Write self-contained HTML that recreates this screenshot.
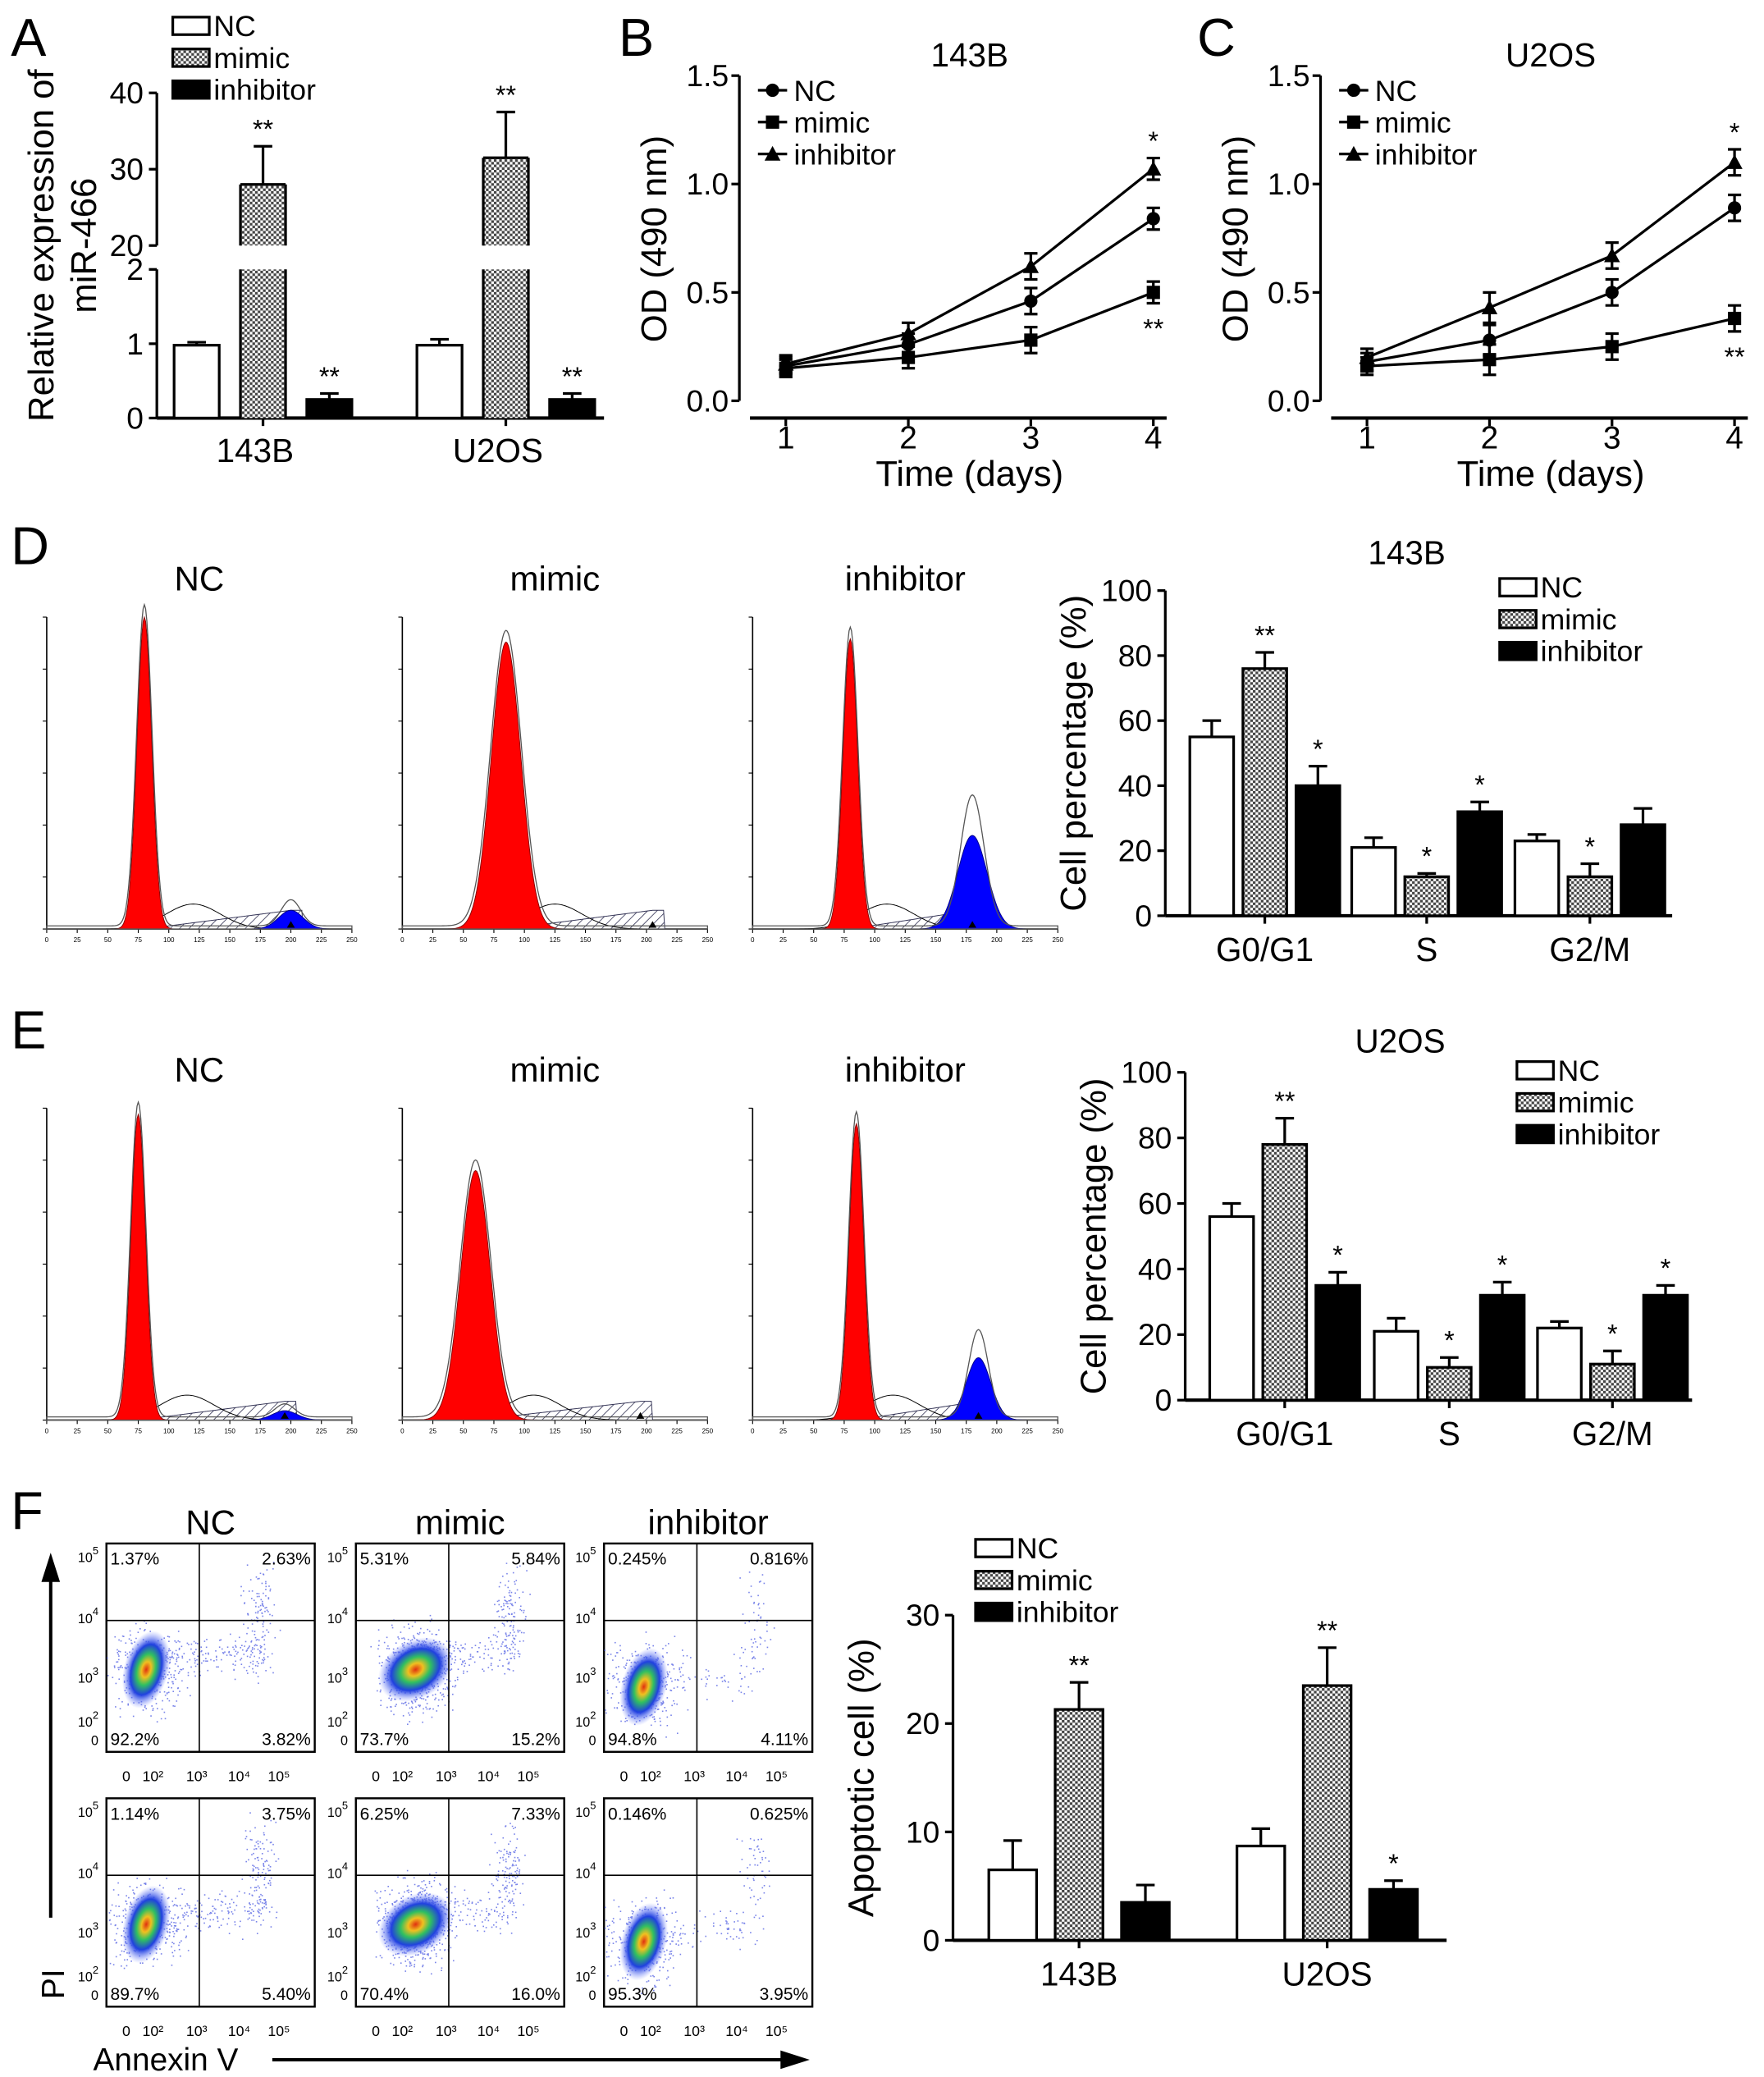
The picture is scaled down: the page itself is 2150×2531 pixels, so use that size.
<!DOCTYPE html>
<html><head><meta charset="utf-8"><style>
html,body{margin:0;padding:0;background:#fff}
svg{display:block}
text{font-family:"Liberation Sans",Arial,sans-serif;fill:#000}
</style></head><body>
<svg id="fig" xmlns="http://www.w3.org/2000/svg" width="2150" height="2531" viewBox="0 0 1329 1565">
<defs>
<pattern id="chk" width="4" height="4" patternUnits="userSpaceOnUse"><rect width="4" height="4" fill="#fff"/><rect width="2" height="2" fill="#444"/><rect x="2" y="2" width="2" height="2" fill="#444"/></pattern>
<pattern id="hatch" width="5" height="5" patternUnits="userSpaceOnUse" patternTransform="rotate(45)"><rect width="5" height="5" fill="#fff"/><line x1="0" y1="0" x2="0" y2="5" stroke="#335" stroke-width="1"/></pattern>
<radialGradient id="blob"><stop offset="0" stop-color="#e03010"/><stop offset="0.2" stop-color="#f0c020"/><stop offset="0.4" stop-color="#30c060"/><stop offset="0.65" stop-color="#2040e0"/><stop offset="1" stop-color="#8090ff" stop-opacity="0"/></radialGradient>
</defs>
</svg>
<script>
// ===== Data =====
const groupsA = ["143B","U2OS"];
const ncA = [0.98, 0.98], mimicA = [28, 31.5], inhA = [0.25, 0.25];
const ncAErr = [0.04, 0.08], mimicAErr = [5, 6], inhAErr = [0.08, 0.08];
const starsA = [["","**","**"],["","**","**"]];

const days = [1,2,3,4];
const bNC = [0.16,0.26,0.46,0.84], bMimic=[0.15,0.20,0.28,0.50], bInh=[0.17,0.31,0.62,1.07];
const bErr = [0.04,0.05,0.06,0.05];
const cNC = [0.18,0.28,0.50,0.89], cMimic=[0.16,0.19,0.25,0.38], cInh=[0.20,0.43,0.67,1.10];
const cErr = [0.04,0.07,0.06,0.06];
const odTicks = [0,0.5,1.0,1.5];

const phases = ["G0/G1","S","G2/M"];
const dNC=[55,21,23], dMimic=[76,12,12], dInh=[40,32,28];
const dNCe=[5,3,2], dMimice=[5,1,4], dInhe=[6,3,5];
const dStars=[["","**","*"],["","*","*"],["","*",""]];
const eNC=[56,21,22], eMimic=[78,10,11], eInh=[35,32,32];
const eNCe=[4,4,2], eMimice=[8,3,4], eInhe=[4,4,3];
const eStars=[["","**","*"],["","*","*"],["","*","*"]];
const pctTicks=[0,20,40,60,80,100];

const fNC=[6.5,8.7], fMimic=[21.3,23.5], fInh=[3.5,4.7];
const fNCe=[2.7,1.6], fMimice=[2.5,3.5], fInhe=[1.6,0.8];
const fStars=[["","**",""],["","**","*"]];
const apoTicks=[0,10,20,30];

const quadLabels=[["1.37%","2.63%","92.2%","3.82%"],["5.31%","5.84%","73.7%","15.2%"],["0.245%","0.816%","94.8%","4.11%"],
 ["1.14%","3.75%","89.7%","5.40%"],["6.25%","7.33%","70.4%","16.0%"],["0.146%","0.625%","95.3%","3.95%"]];

// ===== helpers =====
const svg=document.getElementById('fig');
const NS="http://www.w3.org/2000/svg";
function el(tag,attrs,parent){const e=document.createElementNS(NS,tag);for(const k in attrs)e.setAttribute(k,attrs[k]);(parent||svg).appendChild(e);return e;}
function txt(x,y,s,size,anchor,parent,extra){const t=el('text',Object.assign({x:x,y:y,'font-size':size,'text-anchor':anchor||'start'},extra||{}),parent);t.textContent=s;return t;}
function ln(x1,y1,x2,y2,w,parent){return el('line',{x1,y1,x2,y2,stroke:'#000','stroke-width':w||2},parent);}
const fills=['#fff','url(#chk)','#000'];
const names=['NC','mimic','inhibitor'];

function legend(x,y,gap,size){
  const g=el('g',{});
  
  
  for(let i=0;i<3;i++){
    const r=el('rect',{x:x,y:y+i*gap-size*0.55,width:size*1.25,height:size*0.6,fill:fills[i],stroke:'#000','stroke-width':2},g);
    
    
    txt(x+size*1.4,y+i*gap+size*0.1,names[i],size,'start',g);
  }
}

function barChart(o){
  const g=el('g',{});
  
  
  const Y=v=>o.y0-(v/o.vmax)*(o.y0-o.yTop);
  ln(o.ax,o.y0,o.ax,o.yTop,2,g);
  ln(o.ax,o.y0,o.xEnd,o.y0,2.5,g);
  o.ticks.forEach(t=>{ln(o.ax-6,Y(t),o.ax,Y(t),2,g);txt(o.ax-10,Y(t)+8,String(t),23,'end',g);});
  const series=[o.nc,o.mi,o.inh], errs=[o.nce,o.mie,o.inhe];
  o.centers.forEach((c,gi)=>{
    ln(c,o.y0,c,o.y0+6,2,g);
    txt(c,o.y0+34,o.cats[gi],25,'middle',g);
    for(let s=0;s<3;s++){
      const cx=c+(s-1)*o.sp, v=series[s][gi], e=errs[s][gi];
      ln(cx,Y(v),cx,Y(v+e),2,g); ln(cx-7,Y(v+e),cx+7,Y(v+e),2,g);
      const r=el('rect',{x:cx-o.bw/2,y:Y(v),width:o.bw,height:o.y0-Y(v),fill:fills[s],stroke:'#000','stroke-width':2},g);
      
      
      if(o.stars[gi][s])txt(cx,Y(v+e)-6,o.stars[gi][s],20,'middle',g);
    }
  });
  txt(0,0,o.ylabel,27,'middle',g,{transform:`translate(${o.ax-60},${(o.y0+o.yTop)/2}) rotate(-90)`});
  if(o.title)txt(o.titleX,o.titleY,o.title,25,'middle',g);
}

// ===== Panel letters =====
[['A',8,42],['B',466,42],['C',902,42],['D',8,425],['E',8,790],['F',8,1152]].forEach(p=>{const t=txt(p[1],p[2],p[0],40,'start');});

// ===== Panel A (broken axis) =====
(function(){
  const g=el('g',{});
  
  
  const Y=v=> v<=2 ? 315-v*56 : 185-(v-20)*5.75;
  const ax=118;
  ln(ax,315,ax,203,2,g); ln(ax,185,ax,70,2,g);
  ln(ax,315,455,315,2.5,g);
  [0,1,2].forEach(t=>{ln(ax-6,Y(t),ax,Y(t),2,g);txt(ax-10,Y(t)+8,String(t),23,'end',g);});
  [20,30,40].forEach(t=>{ln(ax-6,Y(t),ax,Y(t),2,g);txt(ax-10,Y(t)+8,String(t),23,'end',g);});
  const centers=[198,381], series=[ncA,mimicA,inhA], errs=[ncAErr,mimicAErr,inhAErr];
  centers.forEach((c,gi)=>{
    ln(c,315,c,321,2,g);
    txt(c-6,348,groupsA[gi],25,'middle',g);
    for(let s=0;s<3;s++){
      const cx=c+(s-1)*50, v=series[s][gi], e=errs[s][gi];
      ln(cx,Y(v),cx,Y(v+e),2,g); ln(cx-7,Y(v+e),cx+7,Y(v+e),2,g);
      if(v>2){
        let r=el('rect',{x:cx-17,y:Y(v),width:34,height:185-Y(v),fill:fills[s],stroke:'none'},g);
        
        
        ln(cx-17,Y(v),cx+17,Y(v),2,g);ln(cx-17,Y(v),cx-17,185,2,g);ln(cx+17,Y(v),cx+17,185,2,g);
        r=el('rect',{x:cx-17,y:203,width:34,height:112,fill:fills[s],stroke:'none'},g);
        
        
        ln(cx-17,203,cx-17,315,2,g);ln(cx+17,203,cx+17,315,2,g);
      } else {
        const r=el('rect',{x:cx-17,y:Y(v),width:34,height:315-Y(v),fill:fills[s],stroke:'#000','stroke-width':2},g);
        
        
      }
      if(starsA[gi][s])txt(cx,Y(v+e)-6,starsA[gi][s],20,'middle',g);
    }
  });
  txt(0,0,'Relative expression of',27,'middle',g,{transform:'translate(40,185) rotate(-90)'});
  txt(0,0,'miR-466',27,'middle',g,{transform:'translate(72,185) rotate(-90)'});
  legend(130,25,24,22);
})();

// ===== Panels B, C line charts =====
function lineChart(ax,x1,x4,title,nc,mi,inh,err,name,starsTop,starsBot){
  const g=el('g',{});
  
  
  const Y=v=>302-v*(245/1.5), X=d=>x1+(d-1)*(x4-x1)/3;
  ln(ax,302,ax,57,2,g);
  odTicks.forEach(t=>{ln(ax-6,Y(t),ax,Y(t),2,g);txt(ax-8,Y(t)+8,t.toFixed(1),23,'end',g);});
  ln(ax+8,315,x4+10,315,2.5,g);
  days.forEach(d=>{ln(X(d),315,X(d),321,2,g);txt(X(d),338,String(d),24,'middle',g);});
  txt((x1+x4)/2,366,'Time (days)',27,'middle',g);
  txt(0,0,'OD (490 nm)',27,'middle',g,{transform:`translate(${ax-55},180) rotate(-90)`});
  txt((x1+x4)/2,50,title,25,'middle',g);
  const sets=[nc,mi,inh];
  sets.forEach((vals,s)=>{
    const p=el('polyline',{points:days.map((d,i)=>X(d)+','+Y(vals[i])).join(' '),fill:'none',stroke:'#000','stroke-width':2},g);
    
    
    days.forEach((d,i)=>{
      const x=X(d),y=Y(vals[i]);
      ln(x,Y(vals[i]-err[i]),x,Y(vals[i]+err[i]),2,g);
      ln(x-5,Y(vals[i]-err[i]),x+5,Y(vals[i]-err[i]),2,g);ln(x-5,Y(vals[i]+err[i]),x+5,Y(vals[i]+err[i]),2,g);
      let m;
      if(s===0)m=el('circle',{cx:x,cy:y,r:5},g);
      else if(s===1)m=el('rect',{x:x-5,y:y-5,width:10,height:10},g);
      else m=el('polygon',{points:`${x},${y-6} ${x-6},${y+5} ${x+6},${y+5}`},g);
      
      
    });
  });
  txt(X(4),Y(inh[3]+err[3])-6,starsTop,20,'middle',g);
  txt(X(4),Y(mi[3]-err[3])+26,starsBot,20,'middle',g);
  const lx=ax+14;
  for(let s=0;s<3;s++){
    const y=68+s*24;
    ln(lx,y,lx+22,y,2,g);
    if(s===0)el('circle',{cx:lx+11,cy:y,r:5},g);
    else if(s===1)el('rect',{x:lx+6,y:y-5,width:10,height:10},g);
    else el('polygon',{points:`${lx+11},${y-6} ${lx+5},${y+5} ${lx+17},${y+5}`},g);
    txt(lx+27,y+8,names[s],22,'start',g);
  }
}
lineChart(557,592,869,'143B',bNC,bMimic,bInh,bErr,'panel-b-chart','*','**');
lineChart(995,1030,1307,'U2OS',cNC,cMimic,cInh,cErr,'panel-c-chart','*','**');

// ===== Histograms (D,E) =====
function gauss(x,m,s){return Math.exp(-((x-m)*(x-m))/(2*s*s));}
function histo(x0,y0,w,h,title,m1,s1,a1,m2,s2,a2,name){
  const g=el('g',{});
  
  
  ln(x0,y0,x0,y0-h,1,g); ln(x0,y0,x0+w,y0,1,g);
  for(let i=0;i<=10;i++){ln(x0+i*w/10,y0,x0+i*w/10,y0+3,0.7,g);txt(x0+i*w/10,y0+10,String(i*25),5,'middle',g);}
  for(let i=0;i<=6;i++){ln(x0-3,y0-i*h/6,x0,y0-i*h/6,0.7,g);}
  const X=v=>x0+v/250*w;
  const pth=(f)=>{let d=`M${X(0)},${y0}`;for(let v=0;v<=250;v+=1)d+=` L${X(v)},${y0-f(v)}`;return d+` L${X(250)},${y0} Z`;};
  el('path',{d:pth(v=>h*0.06*Math.max(0,Math.min(1,(v-m1)/(m2-m1)))*(v>m1&&v<m2+10?1:0)),fill:'url(#hatch)',stroke:'#335','stroke-width':0.6},g);
  el('path',{d:pth(v=>h*0.08*gauss(v,(m1+m2)/2-20,22)),fill:'none',stroke:'#000','stroke-width':0.6},g);
  const red=el('path',{d:pth(v=>h*a1*gauss(v,m1,s1)),fill:'#f00',stroke:'#800','stroke-width':0.6},g);
  
  
  const blue=el('path',{d:pth(v=>h*a2*gauss(v,m2,s2)),fill:'#00f',stroke:'#008','stroke-width':0.6},g);
  
  
  el('path',{d:pth(v=>h*(a1*1.03*gauss(v,m1,s1*1.05)+a2*1.4*gauss(v,m2,s2*0.8)+0.01)),fill:'none',stroke:'#555','stroke-width':0.8},g);
  el('polygon',{points:`${X(m2)},${y0-6} ${X(m2)-3},${y0-1} ${X(m2)+3},${y0-1}`,fill:'#000'},g);
  txt(x0+w/2,y0-h-20,title,26,'middle',g);
}
histo(35,700,230,235,'NC',80,6,1.0,200,10,0.06,'hist-d-nc');
histo(303,700,230,235,'mimic',85,12,0.92,205,8,0.0,'hist-d-mimic');
histo(567,700,230,235,'inhibitor',80,6,0.93,180,12,0.3,'hist-d-inhibitor');
histo(35,1070,230,235,'NC',75,6,0.98,195,10,0.03,'hist-e-nc');
histo(303,1070,230,235,'mimic',60,12,0.8,195,8,0.0,'hist-e-mimic');
histo(567,1070,230,235,'inhibitor',85,6,0.95,185,10,0.2,'hist-e-inhibitor');

// ===== Bar charts D,E,F =====
barChart({name:'panel-d-bar-chart',ax:878,y0:690,yTop:445,vmax:100,xEnd:1260,ticks:pctTicks,centers:[953,1075,1198],sp:40,bw:33,cats:phases,nc:dNC,mi:dMimic,inh:dInh,nce:dNCe,mie:dMimice,inhe:dInhe,stars:dStars,ylabel:'Cell percentage (%)',title:'143B',titleX:1060,titleY:425});
legend(1130,448,24,22);
barChart({name:'panel-e-bar-chart',ax:893,y0:1055,yTop:808,vmax:100,xEnd:1275,ticks:pctTicks,centers:[968,1092,1215],sp:40,bw:33,cats:phases,nc:eNC,mi:eMimic,inh:eInh,nce:eNCe,mie:eMimice,inhe:eInhe,stars:eStars,ylabel:'Cell percentage (%)',title:'U2OS',titleX:1055,titleY:793});
legend(1143,812,24,22);
barChart({name:'panel-f-bar-chart',ax:718,y0:1462,yTop:1217,vmax:30,xEnd:1090,ticks:apoTicks,centers:[813,1000],sp:50,bw:36,cats:["143B","U2OS"],nc:fNC,mi:fMimic,inh:fInh,nce:fNCe,mie:fMimice,inhe:fInhe,stars:fStars,ylabel:'Apoptotic cell (%)'});
legend(735,1172,24,22);

// ===== Flow scatter panels F =====
let seed=7;function rnd(){seed=(seed*16807)%2147483647;return seed/2147483647;}
function nrm(){return (rnd()+rnd()+rnd()-1.5)*1.2;}
const boxX=[80,268,455], boxY=[1163,1355], bw=157, bh=157;
const colTitles=['NC','mimic','inhibitor'];
colTitles.forEach((t,i)=>txt(boxX[i]+bw/2,1156,t,26,'middle'));
for(let r=0;r<2;r++)for(let c=0;c<3;c++){
  const x=boxX[c],y=boxY[r];
  const g=el('g',{});
  
  
  el('rect',{x,y,width:bw,height:bh,fill:'#fff',stroke:'#000','stroke-width':1.5},g);
  const bx=x+(c===1?45:30), by=y+(c===2?108:95);
  let d='';
  const n=c===1?700:350;
  for(let k=0;k<n;k++){const px=bx+nrm()*22,py=by+nrm()*25;if(px>x&&px<x+bw&&py>y&&py<y+bh)d+=`M${px.toFixed(1)},${py.toFixed(1)}h1v1h-1z`;}
  for(let k=0;k<(c===2?60:150);k++){const px=x+45+rnd()*75,py=by-rnd()*20+nrm()*8;d+=`M${px.toFixed(1)},${py.toFixed(1)}h1v1h-1z`;}
  for(let k=0;k<(c===2?50:120);k++){const px=x+115+nrm()*10,py=y+55+nrm()*30;d+=`M${px.toFixed(1)},${py.toFixed(1)}h1v1h-1z`;}
  el('path',{d,fill:'#4050e0','fill-opacity':0.7},g);
  el('ellipse',{cx:bx,cy:by,rx:c===1?30:17,ry:c===1?22:30,fill:'url(#blob)',transform:`rotate(${c===1?-30:15},${bx},${by})`},g);
  ln(x+70,y,x+70,y+bh,1,g); ln(x,y+58,x+bw,y+58,1,g);
  const q=quadLabels[r*3+c];
  txt(x+3,y+16,q[0],13,'start',g);txt(x+bw-3,y+16,q[1],13,'end',g);
  txt(x+3,y+bh-5,q[2],13,'start',g);txt(x+bw-3,y+bh-5,q[3],13,'end',g);
  [['10',5,14],['10',4,60],['10',3,105],['10',2,138]].forEach(a=>{const t=txt(x-6,y+a[2],a[0],10,'end',g);const s=el('tspan',{dy:-6,'font-size':8},t);s.textContent=a[1];});
  txt(x-6,y+bh-5,'0',10,'end',g);
  [['0',15],['10²',35],['10³',68],['10⁴',100],['10⁵',130]].forEach(a=>txt(x+a[1],y+bh+22,a[0],11,'middle',g));
}
// axis arrows
ln(38,1445,38,1190,2.5);
el('polygon',{points:'38,1170 31,1192 45,1192',fill:'#000'});
txt(0,0,'PI',24,'middle',null,{transform:'translate(48,1495) rotate(-90)'});
txt(70,1560,'Annexin V',24,'start');
ln(205,1552,590,1552,2.5);
el('polygon',{points:'610,1552 588,1545 588,1559',fill:'#000'});
</script>
</body></html>
